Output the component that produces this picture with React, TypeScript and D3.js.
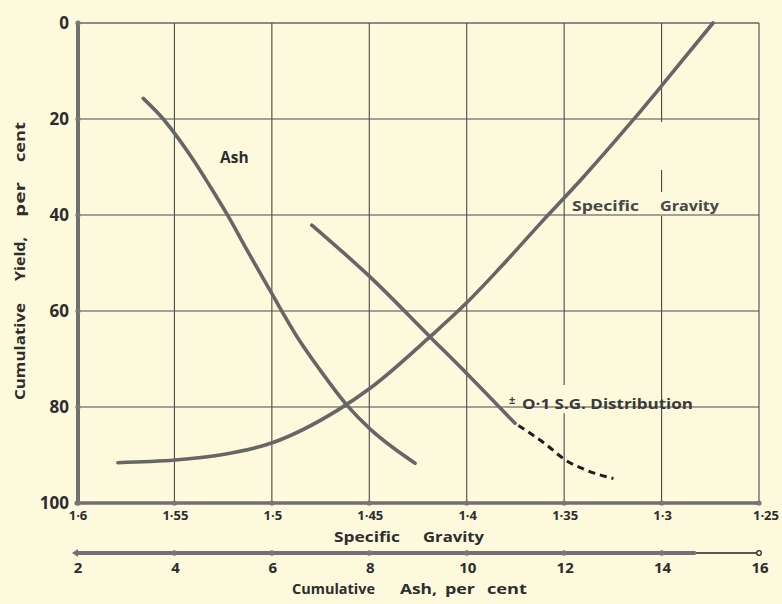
import React from "react";
import * as d3 from "d3";

const W = 782;
const H = 604;

// Axis ticks
const yieldTicks = [0, 20, 40, 60, 80, 100];
const sgTicks = [1.6, 1.55, 1.5, 1.45, 1.4, 1.35, 1.3, 1.25];
const sgTickLabels = ["1·6", "1·55", "1·5", "1·45", "1·4", "1·35", "1·3", "1·25"];
const ashTicks = [2, 4, 6, 8, 10, 12, 14, 16];

// Ash curve: cumulative ash (%) vs cumulative yield (%)
const ashCurveAsh = [3.36, 3.77, 4.12, 4.42, 4.73, 5.1, 5.49, 6.0, 6.52, 6.99, 7.54, 8.02, 8.49, 8.94];
const ashCurveYield = [15.7, 20.0, 24.6, 29.0, 34.0, 40.2, 47.3, 56.4, 65.4, 72.3, 79.6, 84.6, 88.5, 91.7];

// Specific gravity curve: specific gravity vs cumulative yield (%)
const sgCurveSG = [1.579, 1.5497, 1.5266, 1.4994, 1.466, 1.4496, 1.4188, 1.4003, 1.3829, 1.3623, 1.3408, 1.3146, 1.2992, 1.2736];
const sgCurveYield = [91.6, 91.05, 90.0, 87.4, 80.6, 76.1, 65.35, 58.4, 51.0, 41.8, 32.4, 20.2, 12.7, 0];

// ±0·1 S.G. distribution curve (solid part, then dashed extrapolation)
const distSolidSG = [1.4795, 1.4496, 1.4188, 1.4, 1.3752];
const distSolidYield = [42.1, 52.9, 65.4, 73.0, 83.4];
const distDashSG = [1.3752, 1.359, 1.3495, 1.3384, 1.3247];
const distDashYield = [83.4, 87.9, 91.0, 93.2, 94.9];

// Breaks in vertical grid lines where labels sit (yield ranges)
const gridGaps: Record<string, number[][]> = {
  "1.3": [[20.6, 30.6], [35.2, 40.2]],
  "1.35": [[75.4, 81.3]],
};

const BG = "#fcf9dd";
const INK = "#2d2d2d";
const CURVE = "#666666";
const GRID = "#4a4a4a";
const FONT = "'Open Sans', 'DejaVu Sans', sans-serif";

const x = d3.scaleLinear().domain([1.6, 1.25]).range([77, 759]);
const xa = d3.scaleLinear().domain([2, 16]).range([77, 759]);
const y = d3.scaleLinear().domain([0, 100]).range([23, 503]);

const zipPts = (xs: number[], ys: number[]) => xs.map((v, i) => [v, ys[i]] as [number, number]);

const sgLine = d3
  .line<[number, number]>()
  .x((d) => x(d[0]))
  .y((d) => y(d[1]))
  .curve(d3.curveMonotoneX);

const ashLine = d3
  .line<[number, number]>()
  .x((d) => xa(d[0]))
  .y((d) => y(d[1]))
  .curve(d3.curveMonotoneX);

function gridSegments(v: number): [number, number][] {
  const gaps = gridGaps[String(v)] || [];
  const segs: [number, number][] = [];
  let start = 0;
  gaps.forEach(([a, b]) => {
    segs.push([start, a]);
    start = b;
  });
  segs.push([start, 100]);
  return segs;
}

type Word = { t: string; at: number; len: number };

// Words of the titles, placed with their own widths
const sgTitle: Word[] = [
  { t: "Specific", at: 334, len: 66 },
  { t: "Gravity", at: 423, len: 61 },
];
const ashTitle: Word[] = [
  { t: "Cumulative", at: 292, len: 83 },
  { t: "Ash,", at: 400, len: 37 },
  { t: "per", at: 445, len: 30 },
  { t: "cent", at: 487, len: 40 },
];
const yieldTitle: Word[] = [
  { t: "Cumulative", at: 400, len: 97 },
  { t: "Yield,", at: 281, len: 44 },
  { t: "per", at: 217, len: 35 },
  { t: "cent", at: 162, len: 40 },
];
const sgCurveLabel: Word[] = [
  { t: "Specific", at: 572, len: 67 },
  { t: "Gravity", at: 660, len: 59 },
];

export default function App() {
  const [y0, y1] = y.range();
  const [x0, x1] = x.range();
  const ashAxisY = 553;
  const thinStart = xa(14.7);

  const textProps = {
    fontFamily: FONT,
    fontWeight: 700,
    fill: INK,
    lengthAdjust: "spacingAndGlyphs" as const,
  };

  return (
    <svg
      width={W}
      height={H}
      viewBox={`0 0 ${W} ${H}`}
      style={{ position: "absolute", left: 0, top: 0, display: "block" }}
    >
      <rect x={0} y={0} width={W} height={H} fill={BG} />

      {/* horizontal grid lines */}
      {yieldTicks.slice(1, -1).map((t) => (
        <line key={`h${t}`} x1={x0} x2={x1} y1={y(t)} y2={y(t)} stroke={GRID} strokeWidth={1.1} />
      ))}
      {/* top border */}
      <line x1={x0} x2={x1} y1={y0} y2={y0} stroke="#666" strokeWidth={1.3} />

      {/* vertical grid lines */}
      {sgTicks.slice(1).map((t) =>
        gridSegments(t).map(([a, b], i) => (
          <line
            key={`v${t}-${i}`}
            x1={x(t)}
            x2={x(t)}
            y1={y(a)}
            y2={y(b)}
            stroke={GRID}
            strokeWidth={1.1}
          />
        ))
      )}

      {/* left and bottom axes */}
      <line x1={x0 + 1} x2={x0 + 1} y1={y0} y2={y1} stroke="#707070" strokeWidth={4} />
      <line x1={x0} x2={x1} y1={y1} y2={y1} stroke="#707070" strokeWidth={3.5} />
      {yieldTicks.map((t) => (
        <circle key={`yt${t}`} cx={x0 + 1} cy={y(t)} r={2.6} fill="#777" />
      ))}
      {sgTicks.map((t) => (
        <circle key={`xt${t}`} cx={x(t)} cy={y1} r={2.6} fill="#777" />
      ))}

      {/* yield tick labels */}
      {yieldTicks.map((t) => (
        <text
          key={`yl${t}`}
          x={x0 - 8}
          y={y(t)}
          dy="0.36em"
          textAnchor="end"
          fontFamily={FONT}
          fontWeight={700}
          fontSize={17}
          fill={INK}
        >
          {t}
        </text>
      ))}

      {/* specific gravity tick labels */}
      {sgTicks.map((t, i) => (
        <text
          key={`sl${t}`}
          x={x(t) + (i === sgTicks.length - 1 ? 7 : 1)}
          y={520}
          textAnchor="middle"
          fontFamily={FONT}
          fontWeight={700}
          fontSize={13}
          fill={INK}
        >
          {sgTickLabels[i]}
        </text>
      ))}
      {sgTitle.map((w) => (
        <text key={w.t} x={w.at} y={542} fontSize={14.5} textLength={w.len} {...textProps}>
          {w.t}
        </text>
      ))}

      {/* cumulative ash axis */}
      <line x1={xa(2) - 2} x2={thinStart} y1={ashAxisY} y2={ashAxisY} stroke="#707070" strokeWidth={4} />
      <line x1={thinStart} x2={xa(16) - 2} y1={ashAxisY} y2={ashAxisY} stroke="#222" strokeWidth={1.6} />
      <circle cx={xa(16)} cy={ashAxisY} r={2.3} fill={BG} stroke="#222" strokeWidth={1.2} />
      <path
        d={`M${xa(2) - 5},${ashAxisY} L${xa(2) + 1},${ashAxisY - 4} L${xa(2) + 1},${ashAxisY + 4} Z`}
        fill="#707070"
      />
      {ashTicks.slice(1, -1).map((t) => (
        <circle key={`at${t}`} cx={xa(t)} cy={ashAxisY} r={2.8} fill="#777" />
      ))}
      {ashTicks.map((t) => (
        <text
          key={`al${t}`}
          x={xa(t) + 1}
          y={573}
          textAnchor="middle"
          fontFamily={FONT}
          fontWeight={700}
          fontSize={15}
          fill={INK}
        >
          {t}
        </text>
      ))}
      {ashTitle.map((w) => (
        <text key={w.t} x={w.at} y={594} fontSize={14} textLength={w.len} {...textProps}>
          {w.t}
        </text>
      ))}

      {/* y axis title */}
      {yieldTitle.map((w) => (
        <text
          key={w.t}
          transform={`translate(25,${w.at}) rotate(-90)`}
          fontSize={14.5}
          textLength={w.len}
          {...textProps}
        >
          {w.t}
        </text>
      ))}

      {/* curves */}
      <path d={ashLine(zipPts(ashCurveAsh, ashCurveYield)) || ""} fill="none" stroke={CURVE} strokeWidth={3.6} strokeLinecap="round" />
      <path d={sgLine(zipPts(sgCurveSG, sgCurveYield)) || ""} fill="none" stroke={CURVE} strokeWidth={3.6} strokeLinecap="round" />
      <path d={sgLine(zipPts(distSolidSG, distSolidYield)) || ""} fill="none" stroke={CURVE} strokeWidth={3.6} strokeLinecap="round" />
      <path
        d={sgLine(zipPts(distDashSG, distDashYield)) || ""}
        fill="none"
        stroke="#1e1e1e"
        strokeWidth={3}
        strokeDasharray="7 5"
        strokeDashoffset={-4}
      />

      {/* curve labels */}
      <text x={220} y={163} fontFamily={FONT} fontWeight={700} fontSize={15.5} fill={INK}>
        Ash
      </text>
      {sgCurveLabel.map((w) => (
        <text key={w.t} x={w.at} y={211} fontSize={14.5} textLength={w.len} {...textProps} fill="#474747">
          {w.t}
        </text>
      ))}
      <text x={509} y={404} fontFamily={FONT} fontWeight={700} fontSize={11} fill="#3a3a3a">
        ±
      </text>
      <text
        x={522}
        y={409}
        fontSize={14.5}
        textLength={171}
        {...textProps}
        fill="#3a3a3a"
      >
        O·1 S.G. Distribution
      </text>
    </svg>
  );
}
